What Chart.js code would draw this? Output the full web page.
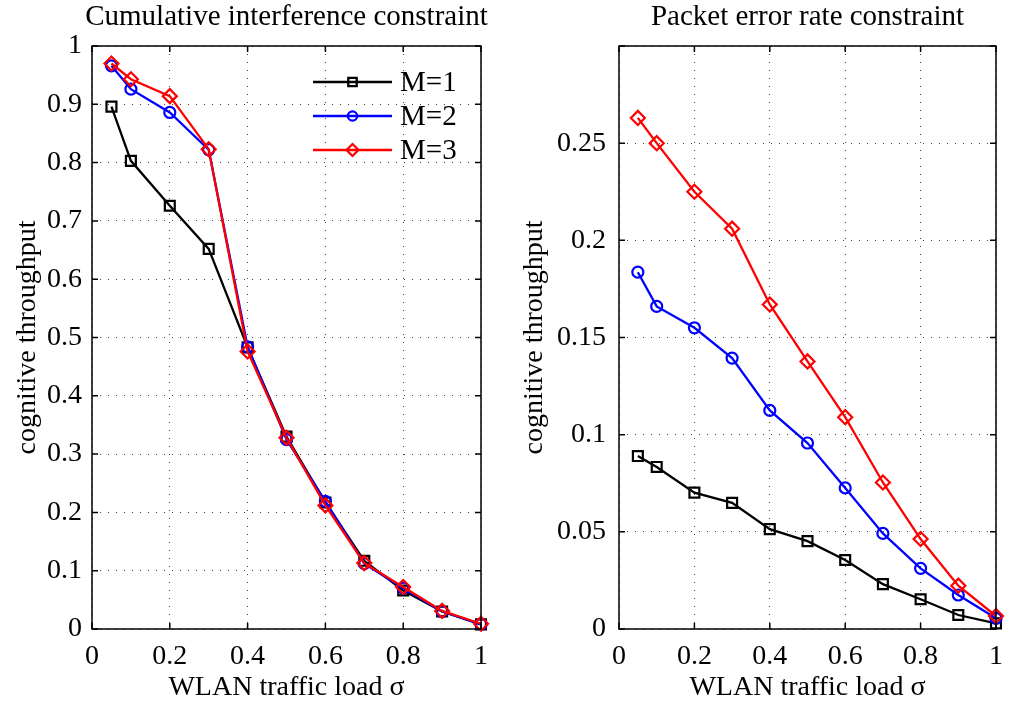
<!DOCTYPE html>
<html lang="en">
<head>
  <meta charset="UTF-8" />
  <title>Cognitive throughput vs WLAN traffic load</title>
  <script src="https://cdn.jsdelivr.net/npm/chart.js"></script>
  <style>
    body { margin: 0; background: #fff; }
    .wrap { position: relative; width: 1014px; height: 704px; }
    canvas { position: absolute; top: 0; }
    #leftChart { left: 0; }
    #rightChart { left: 507px; }
  </style>
</head>
<body>
  <div class="wrap">
    <canvas id="leftChart" width="507" height="704"></canvas>
    <canvas id="rightChart" width="507" height="704"></canvas>
  </div>

  <script>
    // traffic load values (x)
    const load = [0.05, 0.1, 0.2, 0.3, 0.4, 0.5, 0.6, 0.7, 0.8, 0.9, 1.0];
    const seriesNames = ["M=1", "M=2", "M=3"];
    const seriesColors = ["#000000", "#0000ff", "#ff0000"];
    const seriesMarkers = ["rect", "circle", "rectRot"];
    const markerSizes = [7, 5.5, 7];

    // left: cumulative interference constraint
    const interfM1 = [0.896, 0.803, 0.726, 0.652, 0.483, 0.330, 0.217, 0.117, 0.066, 0.030, 0.008];
    const interfM2 = [0.966, 0.926, 0.886, 0.822, 0.484, 0.325, 0.219, 0.112, 0.070, 0.030, 0.008];
    const interfM3 = [0.970, 0.943, 0.914, 0.823, 0.476, 0.328, 0.212, 0.113, 0.072, 0.031, 0.009];

    // right: packet error rate constraint
    const perM1 = [0.089, 0.0834, 0.0702, 0.0649, 0.0514, 0.0452, 0.0355, 0.0231, 0.0153, 0.0072, 0.0029];
    const perM2 = [0.1836, 0.166, 0.155, 0.1394, 0.1125, 0.0957, 0.0726, 0.0492, 0.0312, 0.0175, 0.0055];
    const perM3 = [0.263, 0.250, 0.225, 0.206, 0.167, 0.1377, 0.109, 0.0754, 0.0463, 0.0223, 0.0067];

    const FONT = "'Liberation Serif', 'Times New Roman', serif";

    function fmt(v) {
      return String(Math.round(v * 100) / 100);
    }

    function makeDatasets(values) {
      return values.map((vals, i) => ({
        label: seriesNames[i],
        data: vals.map((v, k) => ({ x: load[k], y: v })),
        borderColor: seriesColors[i],
        backgroundColor: "rgba(0,0,0,0)",
        borderWidth: 2.3,
        pointStyle: seriesMarkers[i],
        pointRadius: markerSizes[i],
        pointBorderWidth: 2.2,
        pointBorderColor: seriesColors[i],
        pointBackgroundColor: "rgba(0,0,0,0)",
        tension: 0,
        clip: false,
        order: 3 - i
      }));
    }

    // title, box, inward ticks and optional legend
    const decor = {
      id: "decor",
      afterDraw(chart, args, opts) {
        const ctx = chart.ctx;
        const a = chart.chartArea;
        ctx.save();
        ctx.fillStyle = "#000";
        ctx.font = "29px " + FONT;
        ctx.textAlign = "center";
        ctx.textBaseline = "alphabetic";
        ctx.fillText(opts.title, (a.left + a.right) / 2, 25);

        ctx.strokeStyle = "#000";
        ctx.lineWidth = 1.5;
        ctx.setLineDash([]);
        ctx.strokeRect(a.left, a.top, a.right - a.left, a.bottom - a.top);

        const tl = 6;
        ctx.beginPath();
        chart.scales.x.ticks.forEach((t, i) => {
          const px = chart.scales.x.getPixelForTick(i);
          ctx.moveTo(px, a.bottom); ctx.lineTo(px, a.bottom - tl);
          ctx.moveTo(px, a.top); ctx.lineTo(px, a.top + tl);
        });
        chart.scales.y.ticks.forEach((t, i) => {
          const py = chart.scales.y.getPixelForTick(i);
          ctx.moveTo(a.left, py); ctx.lineTo(a.left + tl, py);
          ctx.moveTo(a.right, py); ctx.lineTo(a.right - tl, py);
        });
        ctx.stroke();

        if (opts.legend) {
          chart.data.datasets.forEach((ds, i) => {
            const y = a.top + 36 + i * 34;
            const x0 = a.right - 168, x1 = a.right - 89;
            ctx.strokeStyle = ds.borderColor;
            ctx.lineWidth = 2.3;
            ctx.beginPath();
            ctx.moveTo(x0, y); ctx.lineTo(x1, y);
            ctx.stroke();
            ctx.fillStyle = "rgba(0,0,0,0)";
            Chart.helpers.drawPoint(ctx, {
              pointStyle: ds.pointStyle,
              radius: ds.pointRadius * 0.85,
              borderWidth: 2,
              rotation: 0
            }, (x0 + x1) / 2, y);
            ctx.fillStyle = "#000";
            ctx.font = "29px " + FONT;
            ctx.textAlign = "left";
            ctx.textBaseline = "middle";
            ctx.fillText(ds.label, a.right - 81, y + 1);
          });
        }
        ctx.restore();
      }
    };

    function makeChart(id, values, yMax, yStep, title, yWidth, rightPad, showLegend, yPad) {
      return new Chart(document.getElementById(id), {
        type: "line",
        data: { datasets: makeDatasets(values) },
        plugins: [decor],
        options: {
          responsive: false,
          animation: false,
          devicePixelRatio: 1,
          layout: { padding: { top: 46, right: rightPad, left: 0, bottom: 0 } },
          plugins: {
            legend: { display: false },
            tooltip: { enabled: false },
            decor: { title: title, legend: showLegend }
          },
          scales: {
            x: {
              type: "linear",
              min: 0,
              max: 1,
              afterFit: (s) => { s.height = 75; },
              ticks: {
                stepSize: 0.2,
                color: "#000",
                padding: 11,
                font: { family: FONT, size: 28 },
                callback: (v) => fmt(v)
              },
              grid: { color: "#444", lineWidth: 1, drawTicks: false },
              border: { display: false, dash: [1, 7] },
              title: {
                display: true,
                text: "WLAN traffic load σ",
                color: "#000",
                font: { family: FONT, size: 28 },
                padding: { top: 0, bottom: 0 }
              }
            },
            y: {
              min: 0,
              max: yMax,
              afterFit: (s) => { s.width = yWidth; },
              ticks: {
                stepSize: yStep,
                color: "#000",
                padding: yPad,
                font: { family: FONT, size: 28 },
                callback: (v) => (Math.abs(v - yMax) < 1e-9 && yMax < 1 ? "" : fmt(v))
              },
              grid: { color: "#444", lineWidth: 1, drawTicks: false },
              border: { display: false, dash: [1, 7] },
              title: {
                display: true,
                text: "cognitive throughput",
                color: "#000",
                font: { family: FONT, size: 28 },
                padding: { top: 11, bottom: 0 }
              }
            }
          }
        }
      });
    }

    makeChart("leftChart", [interfM1, interfM2, interfM3], 1, 0.1,
      "Cumulative interference constraint", 92, 26, true, 10);
    makeChart("rightChart", [perM1, perM2, perM3], 0.3, 0.05,
      "Packet error rate constraint", 112, 7, false, 13);
  </script>
</body>
</html>
